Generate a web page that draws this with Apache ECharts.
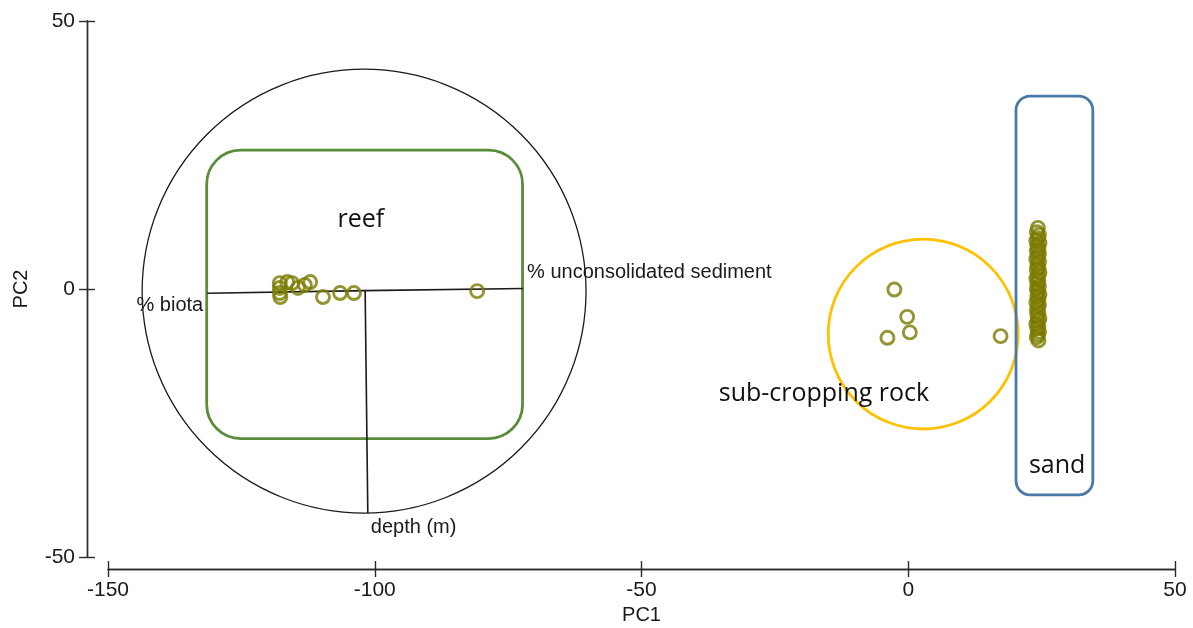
<!DOCTYPE html>
<html><head><meta charset="utf-8">
<script src="https://cdn.jsdelivr.net/npm/echarts@6/dist/echarts.min.js"></script>
<style>html,body{margin:0;padding:0;background:#fff}#c{width:1193px;height:628px}</style>
</head><body><div id="c"></div>
<script>
// ---- data ----
const xTicks = [-150, -100, -50, 0, 50];
const yTicks = [-50, 0, 50];
const reefPoints = [[-117.8,1.1],[-117.8,0.2],[-117.8,-0.75],[-117.7,-1.5],[-116.4,1.3],[-115.5,1.1],[-114.4,0.2],[-113.1,0.75],[-112.1,1.3],[-109.7,-1.5],[-106.5,-0.75],[-103.9,-0.75],[-80.8,-0.4]];
const rockPoints = [[-2.6,-0.1],[-0.2,-5.2],[0.3,-8.1],[-3.9,-9.1],[17.3,-8.8]];
const sandPoints = [[24.3,11.4],[24.1,10.6],[24.5,10.1],[24.3,9.5],[24.0,9.0],[24.6,8.6],[24.2,8.1],[24.4,7.5],[24.1,7.1],[24.5,6.6],[24.3,6.0],[24.0,5.6],[24.5,5.1],[24.2,4.6],[24.4,4.0],[24.1,3.6],[24.6,3.1],[24.3,2.5],[24.0,2.0],[24.4,1.6],[24.2,1.0],[24.5,0.5],[24.1,0.0],[24.3,-0.5],[24.6,-1.0],[24.2,-1.4],[24.4,-2.0],[24.0,-2.5],[24.5,-3.0],[24.3,-3.4],[24.1,-4.0],[24.4,-4.5],[24.2,-5.0],[24.6,-5.5],[24.3,-5.9],[24.0,-6.5],[24.4,-7.0],[24.2,-7.4],[24.5,-8.0],[24.3,-8.5],[24.1,-9.0],[24.4,-9.6]];
const vectorOrigin = [-101.8, -0.3];
const vectorNames = ['% biota', '% unconsolidated sediment', 'depth (m)'];
const vectorEnds = [[-131.4,-0.8],[-72.2,0.1],[-101.3,-41.8]];
const correlationCircle = [-102.0, -0.4, 41.6]; // cx, cy, r
const reefBox = [-131.5, 25.9, -72.3, -27.9];    // x0, y0, x1, y1
const rockCircle = [2.8, -8.4, 17.8];
const sandBox = [20.2, 36.0, 34.6, -38.4];
const groupNames = ['reef', 'sub-cropping rock', 'sand'];
const groupLabelAnchors = [[-102.6, 12.9], [-15.8, -19.6], [27.9, -33.0]];

// ---- styles ----
const AX = '#2a2a2a';
const OLIVE = '#7a7a00';
const FONT = '"Liberation Sans", Arial, sans-serif';
const LABEL_FONT = '"Open Sans"';

function roundRectSeries(box, color, radius) {
  return {
    type: 'custom', coordinateSystem: 'cartesian2d', silent: true, z: 1,
    data: [box],
    renderItem: function (params, api) {
      const p0 = api.coord([api.value(0), api.value(1)]);
      const p1 = api.coord([api.value(2), api.value(3)]);
      return { type: 'rect',
        shape: { x: p0[0], y: p0[1], width: p1[0] - p0[0], height: p1[1] - p0[1], r: radius },
        style: { fill: 'none', stroke: color, lineWidth: 2.8 } };
    }
  };
}
function circleSeries(c, color, lw) {
  return {
    type: 'custom', coordinateSystem: 'cartesian2d', silent: true, z: 1,
    data: [c],
    renderItem: function (params, api) {
      const p = api.coord([api.value(0), api.value(1)]);
      const s = api.size([api.value(2), api.value(2)]);
      return { type: 'circle', shape: { cx: p[0], cy: p[1], r: s[0] },
        style: { fill: 'none', stroke: color, lineWidth: lw } };
    }
  };
}

const vectorData = vectorEnds.map((e, i) => [vectorOrigin[0], vectorOrigin[1], e[0], e[1], i]);
const vectorLabelCfg = [
  { dx: -4, dy: 12, align: 'right' },
  { dx: 4, dy: -16, align: 'left' },
  { dx: 3, dy: 14, align: 'left' }
];

const pointStyle = { color: 'rgba(0,0,0,0)', borderColor: OLIVE, borderWidth: 2.9 };

const option = {
  animation: false,
  backgroundColor: '#fff',
  grid: { left: 108, right: 18, top: 21, bottom: 71, containLabel: false, outerBoundsMode: 'none' },
  xAxis: [
    { type: 'value', min: xTicks[0], max: xTicks[xTicks.length - 1], interval: 50, position: 'bottom', offset: 12,
      axisLine: { show: true, onZero: false, lineStyle: { color: AX, width: 1.4 } },
      axisTick: { show: true, length: 8, lineStyle: { color: AX, width: 1.4 } },
      axisLabel: { margin: 11, fontSize: 21, fontFamily: FONT, color: '#1a1a1a', showMinLabel: true, showMaxLabel: true },
      splitLine: { show: false },
      name: 'PC1', nameLocation: 'middle', nameGap: 32,
      nameTextStyle: { fontSize: 20, fontFamily: FONT, color: '#1a1a1a' } },
    { type: 'value', min: xTicks[0], max: xTicks[xTicks.length - 1], interval: 50, position: 'bottom', offset: 12,
      axisLine: { show: true, onZero: false, lineStyle: { color: AX, width: 1.4 } },
      axisTick: { show: true, inside: true, length: 8, lineStyle: { color: AX, width: 1.4 } },
      axisLabel: { show: false }, splitLine: { show: false } }
  ],
  yAxis: [
    { type: 'value', min: yTicks[0], max: yTicks[yTicks.length - 1], interval: 50, position: 'left', offset: 21,
      axisLine: { show: true, onZero: false, lineStyle: { color: AX, width: 1.4 } },
      axisTick: { show: true, length: 8, lineStyle: { color: AX, width: 1.4 } },
      axisLabel: { margin: 12, fontSize: 21, fontFamily: FONT, color: '#1a1a1a', showMinLabel: true, showMaxLabel: true },
      splitLine: { show: false },
      name: 'PC2', nameLocation: 'middle', nameGap: 56, nameRotate: 90,
      nameTextStyle: { fontSize: 20, fontFamily: FONT, color: '#1a1a1a' } },
    { type: 'value', min: yTicks[0], max: yTicks[yTicks.length - 1], interval: 50, position: 'left', offset: 21,
      axisLine: { show: true, onZero: false, lineStyle: { color: AX, width: 1.4 } },
      axisTick: { show: true, inside: true, length: 8, lineStyle: { color: AX, width: 1.4 } },
      axisLabel: { show: false }, splitLine: { show: false } }
  ],
  series: [
    circleSeries(correlationCircle, '#1a1a1a', 1.3),
    roundRectSeries(reefBox, '#5b8c3a', 34),
    circleSeries(rockCircle, '#ffc000', 2.8),
    roundRectSeries(sandBox, '#4a7aa8', 14),
    { type: 'custom', coordinateSystem: 'cartesian2d', silent: true, z: 2,
      data: vectorData,
      renderItem: function (params, api) {
        const a = api.coord([api.value(0), api.value(1)]);
        const b = api.coord([api.value(2), api.value(3)]);
        const cfg = vectorLabelCfg[api.value(4)];
        return { type: 'group', children: [
          { type: 'line', shape: { x1: a[0], y1: a[1], x2: b[0], y2: b[1] },
            style: { stroke: '#1a1a1a', lineWidth: 1.6 } },
          { type: 'text', x: b[0] + cfg.dx, y: b[1] + cfg.dy,
            style: { text: vectorNames[api.value(4)], fill: '#1a1a1a', fontSize: 20, fontFamily: FONT,
              align: cfg.align, verticalAlign: 'middle' } }
        ] };
      } },
    { type: 'custom', coordinateSystem: 'cartesian2d', silent: true, z: 2,
      data: groupLabelAnchors.map((p, i) => [p[0], p[1], i]),
      renderItem: function (params, api) {
        const p = api.coord([api.value(0), api.value(1)]);
        return { type: 'text', x: p[0], y: p[1],
          style: { text: groupNames[api.value(2)], fill: '#111', fontSize: 25, fontFamily: LABEL_FONT,
            align: 'center', verticalAlign: 'middle' } };
      } },
    { type: 'scatter', name: 'reef', data: reefPoints, symbol: 'circle', symbolSize: 13, z: 5, itemStyle: pointStyle, silent: true },
    { type: 'scatter', name: 'sub-cropping rock', data: rockPoints, symbol: 'circle', symbolSize: 13, z: 5, itemStyle: pointStyle, silent: true },
    { type: 'scatter', name: 'sand', data: sandPoints, symbol: 'circle', symbolSize: 13, z: 5, itemStyle: pointStyle, silent: true, large: false }
  ]
};
const chart = echarts.init(document.getElementById('c'), null, { renderer: 'canvas' });
chart.setOption(option);
</script>
</body></html>
